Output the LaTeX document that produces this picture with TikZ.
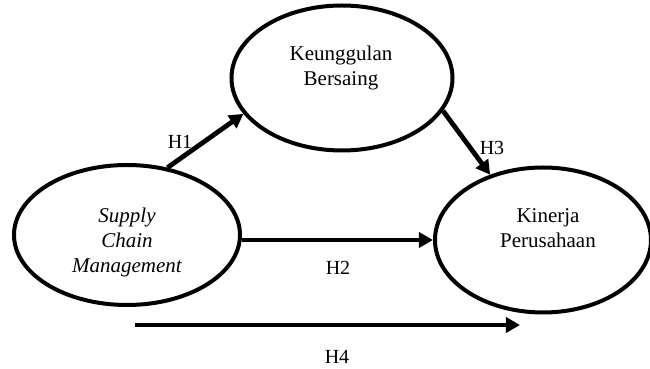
\documentclass[tikz,border=0pt]{standalone}
\usepackage{fontspec}
\setmainfont{Liberation Serif}
\usetikzlibrary{shapes.geometric,arrows.meta}
\tikzset{
  var/.style={ellipse, draw, line width=2pt},
  hyp/.style={line width=2.4pt, -{Triangle[length=7pt,width=7.5pt]}},
  vartext/.style={align=center, font=\fontsize{10.5}{12.5}\selectfont},
  hlabel/.style={font=\fontsize{10}{12}\selectfont}
}
\begin{document}
\begin{tikzpicture}[x=0.5pt,y=0.5pt]
  \useasboundingbox (0,0) rectangle (650,369);

  \node[var, minimum width=113pt, minimum height=70pt] (scm) at (127,134) {}; % Variables
  \node[var, minimum width=110.5pt, minimum height=72.5pt] (kb) at (342,291) {};
  \node[var, minimum width=108pt, minimum height=72.5pt] (kp) at (543,129) {};

  \node[vartext, font=\fontsize{10.5}{12.5}\selectfont\itshape] (scm-t) at (127,127) {Supply\\Chain\\Management};
  \node[vartext] (kb-t) at (341,301) {Keunggulan\\Bersaing};
  \node[vartext] (kp-t) at (548,141) {Kinerja\\Perusahaan};

  \draw[hyp] (scm.59) -- (kb.200); % Hypotheses
  \draw[hyp] (kb.-18.8) -- (kp.129);
  \draw[hyp] (scm.east |- kp.west) -- (kp.west);
  \coordinate (h4s) at (135,44);
  \coordinate (h4e) at (520,44);
  \draw[hyp] (h4s) -- (h4e);

  \node[hlabel] (h1) at (180,227) {H1};
  \node[hlabel] (h2) at (338,101) {H2};
  \node[hlabel] (h3) at (492,221) {H3};
  \node[hlabel] (h4) at (337,12) {H4};
\end{tikzpicture}
\end{document}
